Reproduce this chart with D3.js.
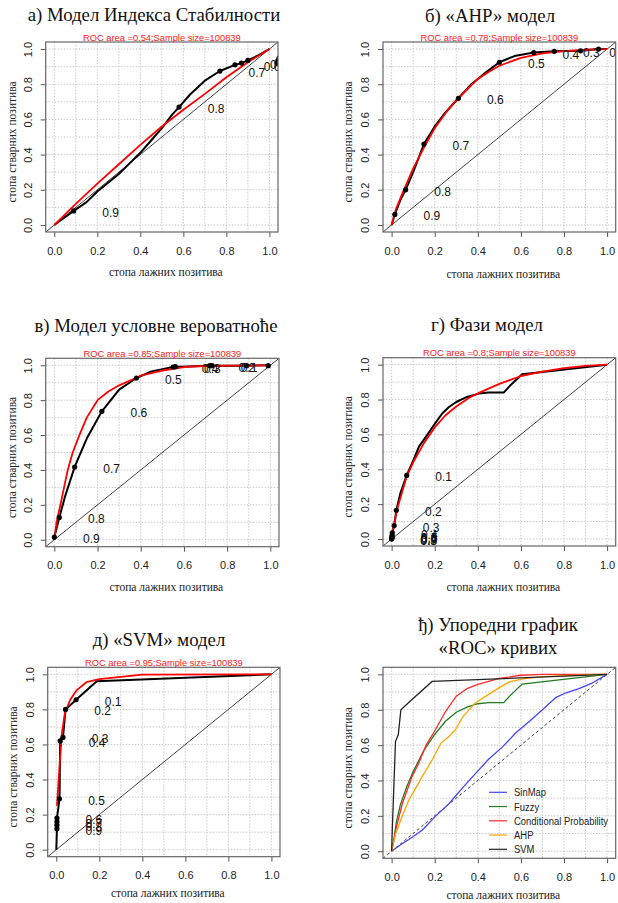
<!DOCTYPE html>
<html>
<head>
<meta charset="utf-8">
<script src="https://cdn.jsdelivr.net/npm/d3@7"></script>
<style>
html,body{margin:0;padding:0;background:#fff;}
svg{display:block;}
</style>
</head>
<body>
<svg id="chart" width="618" height="903"></svg>
<script>
// ---------------- DATA ----------------
const tickValues = [0, 0.2, 0.4, 0.6, 0.8, 1.0];
const tickLabels = ["0.0", "0.2", "0.4", "0.6", "0.8", "1.0"];
const gridValues = [0, 0.1, 0.2, 0.3, 0.4, 0.5, 0.6, 0.7, 0.8, 0.9, 1.0];
const sampleSize = 100839;

const titles = [
  ["а) Модел Индекса Стабилности"],
  ["б) «АНР» модел"],
  ["в) Модел условне вероватноће"],
  ["г) Фази модел"],
  ["д) «SVM» модел"],
  ["ђ) Упоредни график", "«ROC» кривих"]
];
const rocAreas = ["0.54", "0.78", "0.85", "0.8", "0.95"];
const xAxisTitle = "стопа лажних позитива";
const yAxisTitle = "стопа стварних позитива";

// а) SinMap
const sinmapCurve = [[0,0],[0.04,0.035],[0.09,0.08],[0.15,0.13],[0.2,0.19],[0.25,0.24],[0.3,0.29],[0.35,0.35],[0.4,0.41],[0.45,0.48],[0.5,0.55],[0.55,0.63],[0.58,0.67],[0.63,0.74],[0.7,0.82],[0.77,0.875],[0.84,0.91],[0.87,0.92],[0.9,0.935],[0.95,0.965],[1,1]];
const sinmapFit = [[0,0],[0.05,0.06],[0.1,0.12],[0.2,0.235],[0.3,0.345],[0.4,0.455],[0.5,0.56],[0.6,0.655],[0.7,0.745],[0.8,0.84],[0.9,0.925],[1,1]];
const sinmapCutX = [0.09, 0.58, 0.77, 0.84, 0.87, 0.9, 1.035, 1.04, 1.045];
const sinmapCutY = [0.08, 0.67, 0.875, 0.91, 0.92, 0.935, 0.92, 0.935, 0.95];
const sinmapCutLabels = ["0.9","0.8","0.7","0.6","0.5","0.4","0.3","0.2","0.1"];

// б) AHP
const ahpCurve = [[0,0],[0.015,0.06],[0.04,0.14],[0.065,0.2],[0.1,0.3],[0.15,0.46],[0.2,0.56],[0.25,0.64],[0.31,0.72],[0.37,0.8],[0.43,0.86],[0.5,0.925],[0.57,0.96],[0.66,0.98],[0.755,0.987],[0.877,0.99],[0.96,1.0],[1,1]];
const ahpFit = [[0,0],[0.02,0.09],[0.05,0.18],[0.1,0.32],[0.15,0.44],[0.2,0.55],[0.25,0.635],[0.3,0.71],[0.35,0.77],[0.4,0.83],[0.45,0.87],[0.5,0.905],[0.6,0.95],[0.7,0.975],[0.8,0.988],[0.9,0.996],[1,1]];
const ahpCutX = [0.015, 0.065, 0.15, 0.31, 0.5, 0.66, 0.755, 0.877, 0.96];
const ahpCutY = [0.06, 0.2, 0.46, 0.72, 0.925, 0.98, 0.987, 0.99, 1.0];
const ahpCutLabels = ["0.9","0.8","0.7","0.6","0.5","0.4","0.3","0.2","0.1"];

// в) Conditional probability
const condCurve = [[0,0],[0,0.015],[0.023,0.128],[0.05,0.25],[0.094,0.417],[0.15,0.58],[0.22,0.736],[0.3,0.86],[0.38,0.927],[0.45,0.965],[0.55,0.99],[0.72,0.998],[0.89,0.998],[1,1]];
const condFit = [[0,0],[0.01,0.1],[0.028,0.2],[0.045,0.3],[0.062,0.4],[0.085,0.5],[0.116,0.6],[0.15,0.7],[0.2,0.8],[0.25,0.85],[0.3,0.885],[0.4,0.94],[0.5,0.97],[0.6,0.99],[0.7,0.997],[1,1]];
const condCutX = [0, 0.023, 0.094, 0.22, 0.38, 0.55, 0.56, 0.72, 0.73, 0.89, 0.99];
const condCutY = [0.015, 0.128, 0.417, 0.736, 0.927, 0.99, 0.992, 0.998, 0.998, 0.998, 0.998];
const condCutLabels = ["0.9","0.8","0.7","0.6","0.5","0.4","0.3","0.2","0.1","0","0"];

// г) Fuzzy
const fuzzyCurve = [[0,0],[0.001,0.006],[0.002,0.02],[0.003,0.035],[0.012,0.077],[0.022,0.165],[0.04,0.26],[0.07,0.365],[0.1,0.45],[0.127,0.53],[0.15,0.57],[0.2,0.66],[0.235,0.72],[0.266,0.757],[0.3,0.786],[0.35,0.815],[0.405,0.834],[0.45,0.84],[0.52,0.84],[0.55,0.88],[0.606,0.945],[1,1]];
const fuzzyFit = [[0,0],[0.01,0.08],[0.03,0.19],[0.07,0.36],[0.1,0.44],[0.15,0.55],[0.2,0.64],[0.25,0.71],[0.3,0.76],[0.36,0.81],[0.4,0.835],[0.5,0.89],[0.6,0.935],[0.7,0.96],[0.8,0.98],[0.9,0.993],[1,1]];
const fuzzyCutX = [0.07, 0.022, 0.012, 0.003, 0.002, 0.002, 0.001, 0.001, 0];
const fuzzyCutY = [0.365, 0.165, 0.077, 0.035, 0.02, 0.012, 0.006, 0.003, 0];
const fuzzyCutLabels = ["0.1","0.2","0.3","0.4","0.5","0.6","0.7","0.8","0.9"];

// д) SVM
const svmCurve = [[0,0],[0.003,0.12],[0.003,0.18],[0.015,0.29],[0.018,0.62],[0.031,0.64],[0.043,0.8],[0.092,0.855],[0.188,0.96],[1,1]];
const svmFit = [[0.003,0.25],[0.015,0.475],[0.026,0.665],[0.04,0.78],[0.065,0.855],[0.095,0.91],[0.14,0.955],[0.2,0.973],[0.3,0.985],[0.4,0.998],[1,1]];
const svmCutX = [0.092, 0.043, 0.031, 0.018, 0.015, 0.003, 0.003, 0.003, 0.003];
const svmCutY = [0.855, 0.8, 0.64, 0.62, 0.29, 0.18, 0.16, 0.14, 0.12];
const svmCutLabels = ["0.1","0.2","0.3","0.4","0.5","0.6","0.7","0.8","0.9"];

// ђ) Comparison
const legendLabels = ["SinMap", "Fuzzy", "Conditional Probability", "AHP", "SVM"];
const cmpSinMap = [[0,0],[0.04,0.035],[0.08,0.066],[0.143,0.12],[0.205,0.2],[0.267,0.27],[0.33,0.36],[0.39,0.44],[0.45,0.52],[0.515,0.59],[0.577,0.67],[0.64,0.735],[0.7,0.8],[0.763,0.87],[0.81,0.896],[0.87,0.92],[0.93,0.95],[1,1]];
const cmpFuzzy = [[0,0],[0.012,0.077],[0.022,0.165],[0.04,0.26],[0.07,0.365],[0.1,0.45],[0.15,0.57],[0.2,0.66],[0.25,0.735],[0.3,0.786],[0.35,0.815],[0.4,0.834],[0.45,0.84],[0.52,0.84],[0.55,0.88],[0.606,0.945],[1,1]];
const cmpCond = [[0,0],[0.023,0.14],[0.05,0.27],[0.094,0.42],[0.127,0.5],[0.16,0.6],[0.2,0.68],[0.25,0.79],[0.3,0.877],[0.35,0.92],[0.4,0.943],[0.5,0.977],[0.6,0.995],[0.7,1],[1,1]];
const cmpAHP = [[0,0],[0.019,0.1],[0.05,0.2],[0.08,0.29],[0.104,0.34],[0.143,0.425],[0.19,0.52],[0.228,0.61],[0.267,0.65],[0.298,0.69],[0.33,0.76],[0.39,0.84],[0.45,0.887],[0.5,0.925],[0.546,0.957],[0.61,0.975],[0.7,0.987],[0.93,0.998],[1,1]];
const cmpSVM = [[0,0],[0.003,0.12],[0.018,0.62],[0.031,0.66],[0.043,0.8],[0.092,0.855],[0.188,0.96],[1,1]];

// ---------------- LAYOUT ----------------
const panelLayout = [
  {bl:45.7, br:278, bt:42, bb:232, tx:154, ty:[21], yl:12, xly:276},
  {bl:383, br:615.7, bt:42, bb:232, tx:490, ty:[22], yl:348, xly:278},
  {bl:45.7, br:279, bt:358.3, bb:546.7, tx:156, ty:[332], yl:12, xly:591},
  {bl:383, br:615.7, bt:357.7, bb:546, tx:487, ty:[331], yl:348, xly:591},
  {bl:47.7, br:280, bt:667.3, bb:856.7, tx:159, ty:[646], yl:13, xly:897},
  {bl:383, br:615.7, bt:667.3, bb:858.3, tx:498, ty:[631, 654], yl:348, xly:899}
];

const svg = d3.select("#chart");
const SERIF = "'Liberation Serif','Times New Roman',serif";
const SANS = "'Liberation Sans',Arial,Helvetica,sans-serif";

function drawFrame(i) {
  const L = panelLayout[i];
  const x = d3.scaleLinear().domain([-0.04, 1.04]).range([L.bl, L.br]);
  const y = d3.scaleLinear().domain([-0.04, 1.04]).range([L.bb, L.bt]);
  const g = svg.append("g");
  titles[i].forEach((t, k) => {
    g.append("text").attr("x", L.tx).attr("y", L.ty[k]).attr("text-anchor", "middle")
      .attr("font-family", SERIF).attr("font-size", 18.8).attr("fill", "#111").text(t);
  });
  const cid = "clip" + i;
  svg.append("clipPath").attr("id", cid).append("rect")
    .attr("x", L.bl).attr("y", L.bt).attr("width", L.br - L.bl).attr("height", L.bb - L.bt);
  const grid = g.append("g");
  grid.selectAll(".gx").data(gridValues).join("line")
    .attr("x1", d => x(d)).attr("x2", d => x(d)).attr("y1", L.bt).attr("y2", L.bb)
    .attr("stroke", "#c4c4c4").attr("stroke-width", 0.9).attr("stroke-dasharray", "1.5,1.5");
  grid.selectAll(".gy").data(gridValues).join("line")
    .attr("y1", d => y(d)).attr("y2", d => y(d)).attr("x1", L.bl).attr("x2", L.br)
    .attr("stroke", "#c4c4c4").attr("stroke-width", 0.9).attr("stroke-dasharray", "1.5,1.5");
  const xAxis = d3.axisBottom(x).tickValues(tickValues).tickFormat((d, k) => tickLabels[k]).tickSize(5).tickPadding(10);
  const xa = g.append("g").attr("transform", `translate(0,${L.bb})`).call(xAxis);
  xa.select(".domain").remove();
  xa.selectAll("line").attr("stroke", "#555");
  xa.selectAll("text").attr("font-family", SANS).attr("font-size", 11).attr("fill", "#222");
  const yAxis = d3.axisLeft(y).tickValues(tickValues).tickFormat((d, k) => tickLabels[k]).tickSize(5).tickPadding(0);
  const ya = g.append("g").attr("transform", `translate(${L.bl},0)`).call(yAxis);
  ya.select(".domain").remove();
  ya.selectAll("line").attr("stroke", "#555");
  ya.selectAll("text").attr("font-family", SANS).attr("font-size", 11).attr("fill", "#222")
    .attr("text-anchor", "middle").attr("x", 0).attr("dy", 0)
    .attr("transform", "translate(-14,0) rotate(-90)")
    .attr("y", 0);
  g.append("text").attr("x", (L.bl + L.br) / 2 + 4).attr("y", L.xly).attr("text-anchor", "middle")
    .attr("font-family", SERIF).attr("font-size", 11.5).attr("fill", "#222").text(xAxisTitle);
  g.append("text").attr("transform", `translate(${L.yl + 4},${(L.bt + L.bb) / 2 + 5}) rotate(-90)`)
    .attr("text-anchor", "middle").attr("font-family", SERIF).attr("font-size", 11.5).attr("fill", "#222").text(yAxisTitle);
  const inner = g.append("g").attr("clip-path", `url(#${cid})`);
  return {g, inner, x, y, L};
}

function diag(P, dashed) {
  P.inner.append("line").attr("x1", P.x(-0.04)).attr("y1", P.y(-0.04)).attr("x2", P.x(1.04)).attr("y2", P.y(1.04))
    .attr("stroke", "#111").attr("stroke-width", 0.8).attr("stroke-dasharray", dashed ? "3,2.5" : null);
}

function box(P) {
  P.g.append("rect").attr("x", P.L.bl).attr("y", P.L.bt).attr("width", P.L.br - P.L.bl).attr("height", P.L.bb - P.L.bt)
    .attr("fill", "none").attr("stroke", "#666").attr("stroke-width", 1.2);
}

function rocPanel(i, curve, fit, cx, cy, cl) {
  const P = drawFrame(i);
  const line = d3.line().x(d => P.x(d[0])).y(d => P.y(d[1]));
  diag(P, false);
  P.inner.append("path").attr("d", line(curve)).attr("fill", "none").attr("stroke", "#000").attr("stroke-width", 2).attr("stroke-linejoin", "round");
  P.inner.append("path").attr("d", line(fit)).attr("fill", "none").attr("stroke", "#ff0000").attr("stroke-width", 1.8).attr("stroke-linejoin", "round");
  P.inner.selectAll(".pt").data(cx).join("circle")
    .attr("cx", d => P.x(d)).attr("cy", (d, k) => P.y(cy[k])).attr("r", 2.6).attr("fill", "#000");
  P.inner.selectAll(".lb").data(cl).join("text")
    .attr("x", (d, k) => P.x(cx[k]) + 37).attr("y", (d, k) => P.y(cy[k]) + 6)
    .attr("text-anchor", "middle").attr("font-family", SANS).attr("font-size", 12).attr("fill", "#111").text(d => d);
  box(P);
  P.g.append("text").attr("x", (P.L.bl + P.L.br) / 2).attr("y", P.L.bt - 1.5).attr("text-anchor", "middle")
    .attr("font-family", SANS).attr("font-size", 9.3).attr("fill", "#ff2020")
    .text(`ROC area =${rocAreas[i]};Sample size=${sampleSize}`);
}

rocPanel(0, sinmapCurve, sinmapFit, sinmapCutX, sinmapCutY, sinmapCutLabels);
rocPanel(1, ahpCurve, ahpFit, ahpCutX, ahpCutY, ahpCutLabels);
rocPanel(2, condCurve, condFit, condCutX, condCutY, condCutLabels);
rocPanel(3, fuzzyCurve, fuzzyFit, fuzzyCutX, fuzzyCutY, fuzzyCutLabels);
rocPanel(4, svmCurve, svmFit, svmCutX, svmCutY, svmCutLabels);

// comparison panel
(function () {
  const P = drawFrame(5);
  const line = d3.line().x(d => P.x(d[0])).y(d => P.y(d[1]));
  const series = [cmpSinMap, cmpFuzzy, cmpCond, cmpAHP, cmpSVM];
  const colors = ["#4545ff", "#237a23", "#ff2a2a", "#ffa500", "#222222"];
  diag(P, true);
  series.forEach((s, k) => {
    P.inner.append("path").attr("d", line(s)).attr("fill", "none").attr("stroke", colors[k]).attr("stroke-width", 1.3);
  });
  const lg = P.g.append("g");
  legendLabels.forEach((t, k) => {
    const yy = 792.3 + k * 14.25;
    lg.append("line").attr("x1", 489).attr("x2", 507).attr("y1", yy).attr("y2", yy).attr("stroke", colors[k]).attr("stroke-width", 1.2);
    lg.append("text").attr("transform", `translate(514,${yy + 4}) scale(0.86,1)`)
      .attr("font-family", SANS).attr("font-size", 11).attr("fill", "#222").text(t);
  });
  box(P);
})();
</script>
</body>
</html>
